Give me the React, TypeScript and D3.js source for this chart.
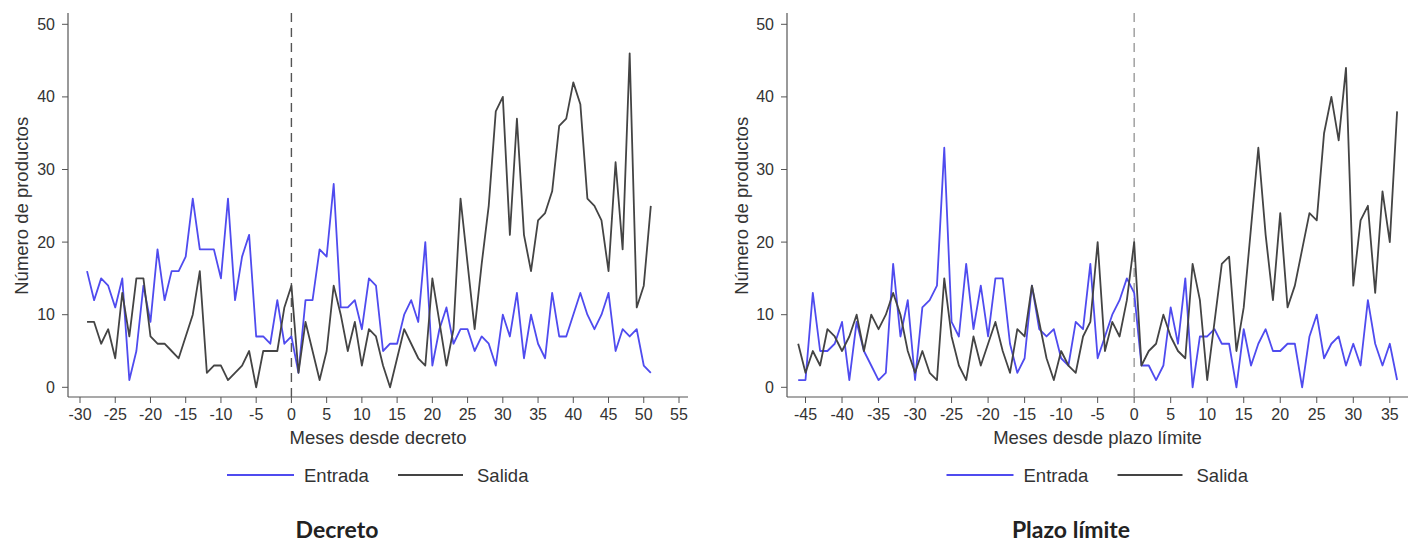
import * as d3 from "d3";

// Decreto panel: months -29..51
const decretoStart = -29;
const decretoEntrada = [
  16, 12, 15, 14, 11, 15, 1, 5, 14, 9, 19, 12, 16, 16, 18, 26, 19, 19, 19, 15,
  26, 12, 18, 21, 7, 7, 6, 12, 6, 7,
  2, 12, 12, 19, 18, 28, 11, 11, 12, 8, 15, 14, 5, 6, 6, 10, 12, 9, 20, 3,
  8, 11, 6, 8, 8, 5, 7, 6, 3, 10, 7, 13, 4, 10, 6, 4, 13, 7, 7, 10,
  13, 10, 8, 10, 13, 5, 8, 7, 8, 3, 2,
];
const decretoSalida = [
  9, 9, 6, 8, 4, 13, 7, 15, 15, 7, 6, 6, 5, 4, 7, 10, 16, 2, 3, 3,
  1, 2, 3, 5, 0, 5, 5, 5, 11, 14,
  2, 9, 5, 1, 5, 14, 10, 5, 9, 3, 8, 7, 3, 0, 4, 8, 6, 4, 3, 15,
  9, 3, 8, 26, 17, 8, 17, 25, 38, 40, 21, 37, 21, 16, 23, 24, 27, 36, 37, 42,
  39, 26, 25, 23, 16, 31, 19, 46, 11, 14, 25,
];
const decretoTicks = [-30, -25, -20, -15, -10, -5, 0, 5, 10, 15, 20, 25, 30, 35, 40, 45, 50, 55];

// Plazo limite panel: months -46..36
const plazoStart = -46;
const plazoEntrada = [
  1, 1, 13, 5, 5, 6, 9, 1, 9, 5, 3, 1, 2, 17, 7, 12, 1, 11, 12, 14,
  33, 9, 7, 17, 8, 14, 7, 15, 15, 6, 2, 4, 14, 8, 7, 8, 4, 3, 9, 8,
  17, 4, 7, 10, 12, 15, 13,
  3, 3, 1, 3, 11, 6, 15, 0, 7, 7, 8, 6, 6, 0, 8, 3, 6, 8, 5, 5,
  6, 6, 0, 7, 10, 4, 6, 7, 3, 6, 3, 12, 6, 3, 6, 1,
];
const plazoSalida = [
  6, 2, 5, 3, 8, 7, 5, 7, 10, 5, 10, 8, 10, 13, 10, 5, 2, 5, 2, 1,
  15, 7, 3, 1, 7, 3, 6, 9, 5, 2, 8, 7, 14, 9, 4, 1, 5, 3, 2, 7,
  9, 20, 5, 9, 7, 12, 20,
  3, 5, 6, 10, 7, 5, 4, 17, 12, 1, 9, 17, 18, 5, 11, 22, 33, 21, 12, 24,
  11, 14, 19, 24, 23, 35, 40, 34, 44, 14, 23, 25, 13, 27, 20, 38,
];
const plazoTicks = [-45, -40, -35, -30, -25, -20, -15, -10, -5, 0, 5, 10, 15, 20, 25, 30, 35];

const yTicks = [0, 10, 20, 30, 40, 50];

const FONT = "'Liberation Sans', Arial, Helvetica, sans-serif";
const BLUE = "#4f4bef";
const GRAY = "#444444";
const TEXT = "#333333";

const yScale = d3.scaleLinear().domain([0, 50]).range([387.3, 24.3]);

type PanelProps = {
  start: number;
  entrada: number[];
  salida: number[];
  ticks: number[];
  x0: number;
  x1: number;
  axisLeft: number;
  axisRight: number;
  xLabel: string;
  caption: string;
  captionX: number;
  vlineColor: string;
  yTitleX: number;
};

function Panel(p: PanelProps) {
  const x = d3
    .scaleLinear()
    .domain([p.ticks[0], p.ticks[p.ticks.length - 1]])
    .range([p.x0, p.x1]);
  const line = d3
    .line<number>()
    .x((_, i) => x(p.start + i))
    .y((d) => yScale(d));
  const axisY = 397;
  const axisTop = 13;
  const mid = (p.axisLeft + p.axisRight) / 2;
  const legY = 475;
  const legStart = mid - 151;

  return (
    <g fontFamily={FONT} fill={TEXT}>
      {/* y axis */}
      <line x1={p.axisLeft} x2={p.axisLeft} y1={axisTop} y2={axisY} stroke="#555" strokeWidth={1.2} />
      {yTicks.map((t) => (
        <g key={t}>
          <line x1={p.axisLeft - 6} x2={p.axisLeft} y1={yScale(t)} y2={yScale(t)} stroke="#555" />
          <text x={p.axisLeft - 13} y={yScale(t) + 5.5} textAnchor="end" fontSize={16}>
            {t}
          </text>
        </g>
      ))}
      <text
        transform={`translate(${p.yTitleX},${yScale(25)}) rotate(-90)`}
        textAnchor="middle"
        fontSize={18.5}
      >
        Número de productos
      </text>

      {/* x axis */}
      <line x1={p.axisLeft} x2={p.axisRight} y1={axisY} y2={axisY} stroke="#555" strokeWidth={1.2} />
      {p.ticks.map((t) => (
        <g key={t}>
          <line x1={x(t)} x2={x(t)} y1={axisY} y2={axisY + 6} stroke="#555" />
          <text x={x(t)} y={420} textAnchor="middle" fontSize={16}>
            {t}
          </text>
        </g>
      ))}
      <text x={mid} y={444} textAnchor="middle" fontSize={18.5}>
        {p.xLabel}
      </text>

      {/* vertical reference at month 0 */}
      <line
        x1={x(0)}
        x2={x(0)}
        y1={axisTop}
        y2={axisY}
        stroke={p.vlineColor}
        strokeWidth={1.4}
        strokeDasharray="9 6"
      />

      <path d={line(p.entrada) ?? ""} fill="none" stroke={BLUE} strokeWidth={1.8} strokeLinejoin="round" />
      <path d={line(p.salida) ?? ""} fill="none" stroke={GRAY} strokeWidth={1.8} strokeLinejoin="round" />

      {/* legend */}
      <line x1={legStart} x2={legStart + 67} y1={legY} y2={legY} stroke={BLUE} strokeWidth={2} />
      <text x={legStart + 77} y={legY + 6.5} fontSize={18.5}>
        Entrada
      </text>
      <line x1={legStart + 171} x2={legStart + 236} y1={legY} y2={legY} stroke={GRAY} strokeWidth={2} />
      <text x={legStart + 250} y={legY + 6.5} fontSize={18.5}>
        Salida
      </text>

      <text
        x={p.captionX}
        y={538}
        textAnchor="middle"
        fontFamily="Lato, 'Noto Sans', sans-serif"
        fontWeight="bold"
        fontSize={23}
        fill="#222"
      >
        {p.caption}
      </text>
    </g>
  );
}

export default function App() {
  return (
    <svg
      width={1413}
      height={542}
      style={{ position: "absolute", left: 0, top: 0, background: "#fff" }}
    >
      <rect width={1413} height={542} fill="#fff" />
      <Panel
        start={decretoStart}
        entrada={decretoEntrada}
        salida={decretoSalida}
        ticks={decretoTicks}
        x0={80}
        x1={679}
        axisLeft={68}
        axisRight={688}
        xLabel="Meses desde decreto"
        caption="Decreto"
        captionX={337}
        vlineColor="#555"
        yTitleX={28}
      />
      <Panel
        start={plazoStart}
        entrada={plazoEntrada}
        salida={plazoSalida}
        ticks={plazoTicks}
        x0={805.5}
        x1={1389.8}
        axisLeft={787}
        axisRight={1408}
        xLabel="Meses desde plazo límite"
        caption="Plazo límite"
        captionX={1071}
        vlineColor="#9a9a9a"
        yTitleX={748}
      />
    </svg>
  );
}
